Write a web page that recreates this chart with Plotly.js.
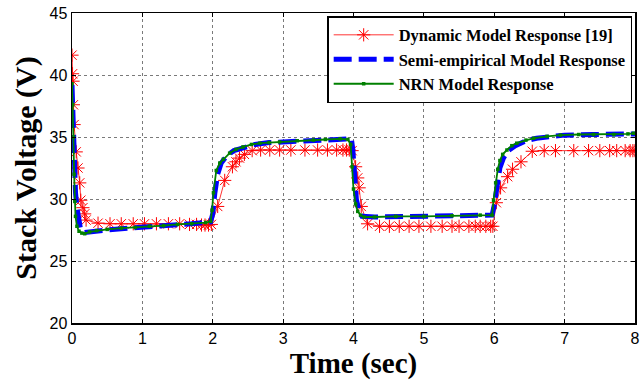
<!DOCTYPE html>
<html>
<head>
<meta charset="utf-8">
<script src="https://cdn.plot.ly/plotly-3.0.1.min.js"></script>
<style>html,body{margin:0;padding:0;background:#fff;}#chart{width:640px;height:385px;}</style>
</head>
<body>
<div id="chart"></div>
<script>
// Dynamic Model Response [19]
const dynT = [0, 0.008, 0.015, 0.02, 0.03, 0.06, 0.085, 0.11, 0.125, 0.155, 0.18, 0.2, 0.37, 0.54, 0.70, 0.87, 1.03, 1.2, 1.37, 1.53, 1.67, 1.77, 1.84, 1.89, 1.94, 1.98, 2.07, 2.17, 2.28, 2.33, 2.38, 2.45, 2.56, 2.68, 2.81, 2.95, 3.11, 3.31, 3.49, 3.63, 3.76, 3.85, 3.9, 3.94, 3.98, 4.03, 4.06, 4.08, 4.11, 4.2, 4.37, 4.51, 4.65, 4.79, 4.93, 5.1, 5.26, 5.4, 5.5, 5.64, 5.73, 5.8, 5.88, 5.95, 5.98, 6.03, 6.09, 6.19, 6.26, 6.38, 6.54, 6.71, 6.87, 7.13, 7.34, 7.5, 7.64, 7.74, 7.86, 7.93, 7.97, 8.0];
const dynV = [41.6, 40.1, 39.5, 37.6, 36.0, 33.8, 32.5, 31.3, 29.9, 29.3, 28.8, 28.3, 28.05, 28.0, 28.0, 28.0, 28.0, 28.0, 28.0, 28.0, 27.95, 27.95, 27.9, 27.9, 27.9, 27.95, 29.4, 31.5, 32.6, 33.0, 33.3, 33.6, 33.9, 33.95, 33.95, 33.95, 33.95, 33.95, 33.95, 33.95, 33.95, 33.95, 33.95, 33.95, 33.9, 32.6, 31.7, 30.9, 29.4, 28.0, 27.8, 27.8, 27.8, 27.8, 27.8, 27.8, 27.8, 27.8, 27.8, 27.8, 27.8, 27.8, 27.8, 27.8, 27.8, 29.7, 30.9, 31.8, 32.4, 33.0, 33.85, 33.9, 33.9, 33.9, 33.9, 33.9, 33.9, 33.9, 33.9, 33.9, 33.9, 33.9];

// Semi-empirical Model Response
const semiT = [0, 0.01, 0.02, 0.035, 0.05, 0.07, 0.09, 0.12, 0.17, 0.3, 0.5, 0.8, 1.1, 1.4, 1.7, 1.97, 2.0, 2.03, 2.07, 2.12, 2.2, 2.3, 2.45, 2.6, 2.8, 3.0, 3.3, 3.6, 3.97, 3.99, 4.01, 4.04, 4.08, 4.12, 4.3, 4.7, 5.2, 5.6, 5.97, 6.0, 6.04, 6.08, 6.13, 6.2, 6.3, 6.45, 6.6, 6.8, 7.0, 7.4, 7.8, 8.0];
const semiV = [39.2, 37.0, 35.0, 32.5, 30.5, 29.3, 28.3, 27.6, 27.3, 27.35, 27.5, 27.65, 27.75, 27.85, 28.0, 28.15, 28.8, 30.5, 32.0, 32.9, 33.5, 33.9, 34.2, 34.4, 34.55, 34.6, 34.7, 34.8, 34.85, 34.0, 32.0, 30.0, 29.0, 28.6, 28.55, 28.6, 28.6, 28.65, 28.7, 29.5, 31.2, 32.5, 33.3, 33.9, 34.3, 34.7, 34.9, 35.05, 35.15, 35.2, 35.2, 35.25];

// NRN Model Response
const nrnT = [0, 0.01, 0.02, 0.03, 0.04, 0.05, 0.07, 0.1, 0.14, 0.18, 0.25, 0.35, 0.5, 0.7, 0.9, 1.1, 1.3, 1.5, 1.7, 1.9, 1.97, 1.99, 2.01, 2.05, 2.1, 2.15, 2.24, 2.33, 2.43, 2.55, 2.67, 2.8, 2.95, 3.2, 3.43, 3.6, 3.81, 3.92, 3.96, 3.98, 4.0, 4.03, 4.06, 4.1, 4.15, 4.3, 4.6, 5.0, 5.4, 5.8, 5.97, 5.99, 6.02, 6.05, 6.08, 6.12, 6.18, 6.25, 6.32, 6.45, 6.56, 6.75, 6.94, 7.2, 7.41, 7.7, 7.9, 7.98];
const nrnV = [39.3, 37.6, 35.0, 32.0, 29.8, 28.6, 27.8, 27.4, 27.25, 27.2, 27.35, 27.45, 27.55, 27.65, 27.7, 27.8, 27.85, 27.95, 28.0, 28.1, 28.2, 29.1, 30.5, 32.3, 32.9, 33.2, 33.7, 34.0, 34.2, 34.4, 34.5, 34.55, 34.6, 34.7, 34.75, 34.8, 34.85, 34.8, 34.4, 32.6, 30.8, 29.6, 29.0, 28.7, 28.55, 28.55, 28.6, 28.6, 28.65, 28.7, 28.7, 29.9, 31.3, 32.4, 33.1, 33.6, 33.95, 34.3, 34.5, 34.75, 34.9, 35.05, 35.15, 35.2, 35.2, 35.2, 35.25, 35.3];

const seriesNames = ['Dynamic Model Response [19]', 'Semi-empirical Model Response', 'NRN Model Response'];
const xTicks = [0, 1, 2, 3, 4, 5, 6, 7, 8];
const yTicks = [20, 25, 30, 35, 40, 45];

const traces = [
  {x: dynT, y: dynV, name: seriesNames[0], type: 'scatter', mode: 'lines+markers',
   line: {color: 'rgb(255,0,0)', width: 0.8},
   marker: {symbol: 'asterisk-open', size: 11, color: 'rgb(255,0,0)', line: {color: 'rgb(255,0,0)', width: 1}}},
  {x: semiT, y: semiV, name: seriesNames[1], type: 'scatter', mode: 'lines',
   line: {color: 'rgb(0,0,255)', width: 5, dash: '18px,7px'}},
  {x: nrnT, y: nrnV, name: seriesNames[2], type: 'scatter', mode: 'lines+markers',
   line: {color: 'rgb(0,128,0)', width: 1.8},
   marker: {symbol: 'square', size: 3.5, color: 'rgb(0,128,0)'}}
];

const axisCommon = {
  showline: true, linecolor: '#000', linewidth: 1.5, mirror: 'ticks',
  ticks: 'inside', ticklen: 4, tickcolor: '#000',
  showgrid: true, gridcolor: '#7a7a7a', griddash: 'dot', gridwidth: 1,
  zeroline: false,
  tickfont: {family: 'Liberation Sans, Arial, sans-serif', size: 16, color: '#000'}
};

const layout = {
  width: 640, height: 385,
  margin: {l: 72, r: 5, t: 13, b: 62},
  paper_bgcolor: '#fff', plot_bgcolor: '#fff',
  showlegend: true,
  xaxis: Object.assign({}, axisCommon, {
    range: [0, 8], tickvals: xTicks, ticktext: xTicks.map(String),
    title: {text: 'Time (sec)', standoff: 2,
            font: {family: 'Liberation Serif, Times New Roman, serif', size: 29, color: '#000', weight: 'bold'}}
  }),
  yaxis: Object.assign({}, axisCommon, {
    range: [20, 45], tickvals: yTicks, ticktext: yTicks.map(String),
    title: {text: 'Stack Voltage (V)', standoff: 4,
            font: {family: 'Liberation Serif, Times New Roman, serif', size: 30, color: '#000', weight: 'bold'}}
  }),
  legend: {
    x: 0.995, y: 0.99, xanchor: 'right', yanchor: 'top',
    bgcolor: '#fff', bordercolor: '#000', borderwidth: 1.5,
    font: {family: 'Liberation Serif, Times New Roman, serif', size: 16.5, color: '#000', weight: 'bold'},
    itemwidth: 60
  }
};

Plotly.newPlot('chart', traces, layout, {displayModeBar: false, staticPlot: true});
</script>
</body>
</html>
